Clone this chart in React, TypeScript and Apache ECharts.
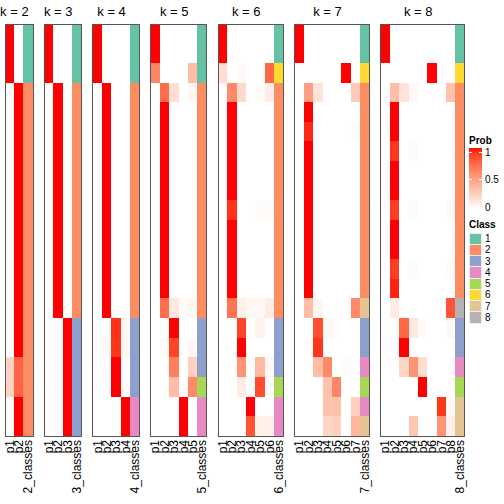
import React, { useEffect, useRef } from "react";
import * as echarts from "echarts";

const K_VALUES = [2, 3, 4, 5, 6, 7, 8];
const ROW_COUNT = 21;

const probK2 = [
  [1, 0], [1, 0], [1, 0],
  [0, 1], [0, 1], [0, 1], [0, 1], [0, 1], [0, 1], [0, 1],
  [0, 1], [0, 1], [0, 1], [0, 1], [0, 1], [0, 1], [0, 1],
  [0.24, 0.76], [0.24, 0.76],
  [0, 1], [0, 1],
];
const classK2 = [1, 1, 1, 2, 2, 2, 2, 2, 2, 2, 2, 2, 2, 2, 2, 2, 2, 2, 2, 2, 2];

const probK3 = [
  [1, 0, 0], [1, 0, 0], [1, 0, 0],
  [0, 1, 0], [0, 1, 0], [0, 1, 0], [0, 1, 0], [0, 1, 0], [0, 1, 0],
  [0, 1, 0], [0, 1, 0], [0, 1, 0], [0, 1, 0], [0, 1, 0], [0, 1, 0],
  [0, 0, 1], [0, 0, 1], [0, 0, 1], [0, 0, 1], [0, 0, 1], [0, 0, 1],
];
const classK3 = [1, 1, 1, 2, 2, 2, 2, 2, 2, 2, 2, 2, 2, 2, 2, 3, 3, 3, 3, 3, 3];

const probK4 = [
  [1, 0, 0, 0], [1, 0, 0, 0], [1, 0, 0, 0],
  [0, 1, 0, 0], [0, 1, 0, 0], [0, 1, 0, 0], [0, 1, 0, 0], [0, 1, 0, 0], [0, 1, 0, 0],
  [0, 1, 0, 0], [0, 1, 0, 0], [0, 1, 0, 0], [0, 1, 0, 0], [0, 1, 0, 0], [0, 1, 0, 0],
  [0, 0, 0.93, 0.04], [0, 0.03, 0.92, 0.04],
  [0, 0, 1, 0], [0, 0, 1, 0],
  [0, 0, 0, 1], [0, 0, 0, 1],
];
const classK4 = [1, 1, 1, 2, 2, 2, 2, 2, 2, 2, 2, 2, 2, 2, 2, 3, 3, 3, 3, 4, 4];

const probK5 = [
  [1, 0, 0, 0, 0], [1, 0, 0, 0, 0], [0.62, 0, 0, 0, 0.35],
  [0, 0.73, 0.17, 0, 0.04],
  [0, 1, 0, 0, 0], [0, 1, 0, 0, 0], [0, 1, 0, 0, 0], [0, 1, 0, 0, 0], [0, 1, 0, 0, 0],
  [0, 1, 0, 0, 0], [0, 1, 0, 0, 0], [0, 1, 0, 0, 0], [0, 1, 0, 0, 0], [0, 1, 0, 0, 0],
  [0, 0.72, 0.12, 0.03, 0.04],
  [0, 0, 1, 0, 0], [0, 0.03, 0.88, 0, 0.04], [0, 0, 0.65, 0, 0.25], [0, 0, 0.35, 0, 0.6],
  [0, 0, 0, 1, 0], [0, 0, 0, 1, 0],
];
const classK5 = [1, 1, 1, 2, 2, 2, 2, 2, 2, 2, 2, 2, 2, 2, 2, 3, 3, 3, 5, 4, 4];

const probK6 = [
  [1, 0, 0, 0, 0, 0], [1, 0, 0, 0, 0, 0], [0.18, 0, 0.03, 0, 0, 0.75],
  [0, 0.6, 0.2, 0, 0.02, 0.1],
  [0, 1, 0, 0, 0, 0], [0, 1, 0, 0, 0, 0], [0, 1, 0, 0, 0, 0], [0, 1, 0, 0, 0, 0], [0, 1, 0, 0, 0, 0],
  [0, 0.93, 0, 0, 0.02, 0.02],
  [0, 1, 0, 0, 0, 0], [0, 1, 0, 0, 0, 0], [0, 1, 0, 0, 0, 0], [0, 1, 0, 0, 0, 0],
  [0, 0.7, 0.08, 0.04, 0.04, 0.1],
  [0, 0, 0.88, 0, 0.07, 0], [0, 0, 1, 0, 0, 0], [0, 0, 0.55, 0, 0.37, 0.04], [0, 0, 0.1, 0, 0.85, 0],
  [0, 0, 0, 1, 0, 0], [0, 0, 0, 0.82, 0.08, 0.08],
];
const classK6 = [1, 1, 6, 2, 2, 2, 2, 2, 2, 2, 2, 2, 2, 2, 2, 3, 3, 3, 5, 4, 4];

const probK7 = [
  [1, 0, 0, 0, 0, 0, 0], [1, 0, 0, 0, 0, 0, 0], [0, 0, 0, 0, 0, 1, 0],
  [0, 0.5, 0.15, 0, 0, 0, 0.28],
  [0, 1, 0, 0, 0, 0, 0], [0, 0.95, 0, 0, 0, 0, 0.02],
  [0, 1, 0, 0, 0, 0, 0], [0, 1, 0, 0, 0, 0, 0], [0, 1, 0, 0, 0, 0, 0], [0, 1, 0, 0, 0, 0, 0],
  [0, 1, 0, 0, 0, 0, 0], [0, 1, 0, 0, 0, 0, 0], [0, 1, 0, 0, 0, 0, 0], [0, 1, 0, 0, 0, 0, 0],
  [0, 0.35, 0.04, 0, 0, 0, 0.6],
  [0, 0, 0.85, 0.04, 0.02, 0, 0], [0, 0.02, 0.92, 0, 0, 0, 0],
  [0, 0, 0.35, 0.6, 0, 0.02, 0], [0, 0, 0, 0.32, 0.62, 0, 0],
  [0, 0, 0, 0.32, 0.32, 0, 0.25], [0, 0, 0, 0.22, 0.25, 0, 0.38],
];
const classK7 = [1, 1, 6, 2, 2, 2, 2, 2, 2, 2, 2, 2, 2, 2, 7, 3, 3, 4, 5, 4, 7];

const probK8 = [
  [1, 0, 0, 0, 0, 0, 0, 0], [1, 0, 0, 0, 0, 0, 0, 0], [0, 0, 0, 0, 0, 1, 0, 0],
  [0, 0.35, 0.15, 0.03, 0, 0, 0, 0.32],
  [0, 1, 0, 0, 0, 0, 0, 0], [0, 1, 0, 0, 0, 0, 0, 0],
  [0, 0.92, 0, 0.02, 0, 0, 0, 0],
  [0, 1, 0, 0, 0, 0, 0, 0], [0, 1, 0, 0, 0, 0, 0, 0],
  [0, 0.9, 0, 0.02, 0, 0, 0, 0.03],
  [0, 1, 0, 0, 0, 0, 0, 0], [0, 1, 0, 0, 0, 0, 0, 0],
  [0, 0.9, 0, 0.02, 0, 0, 0, 0.02], [0, 0.96, 0, 0, 0, 0, 0, 0],
  [0, 0.1, 0, 0, 0, 0, 0, 0.82],
  [0, 0, 0.75, 0.12, 0.03, 0, 0, 0.04], [0, 0, 1, 0, 0, 0, 0, 0],
  [0, 0, 0.22, 0.55, 0.18, 0, 0, 0], [0, 0, 0, 0, 1, 0, 0, 0],
  [0, 0, 0, 0, 0, 0, 0.92, 0.03], [0, 0, 0, 0.3, 0, 0, 0.55, 0.08],
];
const classK8 = [1, 1, 6, 2, 2, 2, 2, 2, 2, 2, 2, 2, 2, 2, 8, 3, 3, 4, 5, 7, 7];

const PROBS = [probK2, probK3, probK4, probK5, probK6, probK7, probK8];
const CLASSES = [classK2, classK3, classK4, classK5, classK6, classK7, classK8];
const CLASS_LABELS = ["1", "2", "3", "4", "5", "6", "7", "8"];
const CLASS_COLORS = ["#66C2A5", "#FC8D62", "#8DA0CB", "#E78AC3", "#A6D854", "#FFD92F", "#E5C494", "#B3B3B3"];
const PROB_TICKS = [1, 0.5, 0];

// layout
const FONT = "Liberation Sans, Arial, Helvetica, sans-serif";
const CELL_W = 9.35;
const GAP = 11.2;
const LEFT0 = 5;
const TOP = 24;
const HEIGHT = 412;

function labWhiteToRed(t: number): string {
  const L = 100 + (53.2408 - 100) * t;
  const a = 80.0925 * t;
  const b = 67.2032 * t;
  const fy = (L + 16) / 116;
  const fx = fy + a / 500;
  const fz = fy - b / 200;
  const f = (v: number) => (v * v * v > 0.008856 ? v * v * v : (v - 16 / 116) / 7.787);
  const X = 0.95047 * f(fx), Y = f(fy), Z = 1.08883 * f(fz);
  const r = 3.2406 * X - 1.5372 * Y - 0.4986 * Z;
  const g = -0.9689 * X + 1.8758 * Y + 0.0415 * Z;
  const bl = 0.0557 * X - 0.204 * Y + 1.057 * Z;
  const gam = (c: number) => {
    c = Math.min(1, Math.max(0, c));
    const v = c <= 0.0031308 ? 12.92 * c : 1.055 * Math.pow(c, 1 / 2.4) - 0.055;
    return Math.round(v * 255).toString(16).padStart(2, "0");
  };
  return "#" + gam(r) + gam(g) + gam(bl);
}

const PALETTE = Array.from({ length: 41 }, (_, i) => labWhiteToRed(i / 40));

export default function App() {
  const ref = useRef<HTMLDivElement>(null);
  useEffect(() => {
    if (!ref.current) return;
    const chart = echarts.init(ref.current, null, { renderer: "svg", width: 504, height: 504 });

    const grids: any[] = [];
    const xAxes: any[] = [];
    const yAxes: any[] = [];
    const probSeries: any[] = [];
    const classSeries: any[] = [];
    const graphics: any[] = [];
    let cum = 0;
    K_VALUES.forEach((k, i) => {
      const ncol = k + 1;
      const left = LEFT0 + cum * CELL_W + i * GAP;
      const width = ncol * CELL_W;
      cum += ncol;
      grids.push({ left, top: TOP, width, height: HEIGHT, containLabel: false });
      const cats = Array.from({ length: k }, (_, j) => "p" + (j + 1)).concat([k + "_classes"]);
      xAxes.push({
        type: "category",
        gridIndex: i,
        data: cats,
        position: "bottom",
        axisLine: { show: false },
        axisTick: { show: false },
        splitLine: { show: false },
        axisLabel: {
          interval: 0,
          rotate: 90,
          margin: 4,
          fontSize: 12,
          color: "#000",
          fontFamily: FONT,
        },
      });
      yAxes.push({
        type: "category",
        gridIndex: i,
        data: Array.from({ length: ROW_COUNT }, (_, r) => String(r)),
        inverse: true,
        show: false,
      });
      const pd: any[] = [];
      PROBS[i].forEach((row, r) => row.forEach((v, c) => pd.push([c, r, v])));
      probSeries.push({
        type: "heatmap",
        xAxisIndex: i,
        yAxisIndex: i,
        data: pd,
        itemStyle: { borderWidth: 0 },
        emphasis: { disabled: true },
        progressive: 0,
      });
      const cd: any[] = CLASSES[i].map((cl, r) => [k, r, cl]);
      classSeries.push({
        type: "heatmap",
        xAxisIndex: i,
        yAxisIndex: i,
        data: cd,
        itemStyle: { borderWidth: 0 },
        emphasis: { disabled: true },
        progressive: 0,
      });
      // border
      graphics.push({
        type: "rect",
        shape: { x: left, y: TOP, width, height: HEIGHT },
        style: { fill: "none", stroke: "#555", lineWidth: 1 },
        z: 100,
        silent: true,
      });
      // title centered over probability columns
      graphics.push({
        type: "text",
        x: left + (k * CELL_W) / 2,
        y: 11,
        style: {
          text: "k = " + k,
          fill: "#000",
          fontSize: 13,
          fontFamily: FONT,
          align: "center",
          verticalAlign: "middle",
          textAlign: "center",
          textVerticalAlign: "middle",
        },
        z: 100,
      });
    });

    // Prob legend
    const LX = 469;
    graphics.push({
      type: "text", x: LX, y: 140,
      style: { text: "Prob", fill: "#000", fontSize: 10, fontWeight: "bold", fontFamily: FONT, align: "left", verticalAlign: "middle", textAlign: "left", textVerticalAlign: "middle" },
    });
    const barTop = 148, barH = 61;
    graphics.push({
      type: "rect",
      shape: { x: LX, y: barTop, width: 13, height: barH },
      style: {
        fill: new echarts.graphic.LinearGradient(0, 0, 0, 1, PALETTE.slice().reverse().map((c, i, arr) => ({ offset: i / (arr.length - 1), color: c }))),
      },
    });
    const tickY = (v: number) => 152 + (1 - v) * 55;
    PROB_TICKS.forEach((v) => {
      const y = tickY(v);
      graphics.push({ type: "line", shape: { x1: LX, y1: y, x2: LX + 3, y2: y }, style: { stroke: "#fff", lineWidth: 1 } });
      graphics.push({ type: "line", shape: { x1: LX + 10, y1: y, x2: LX + 13, y2: y }, style: { stroke: "#fff", lineWidth: 1 } });
      graphics.push({
        type: "text", x: LX + 16, y,
        style: { text: String(v), fill: "#000", fontSize: 10, fontFamily: FONT, align: "left", verticalAlign: "middle", textAlign: "left", textVerticalAlign: "middle" },
      });
    });
    // Class legend
    graphics.push({
      type: "text", x: LX, y: 224,
      style: { text: "Class", fill: "#000", fontSize: 10, fontWeight: "bold", fontFamily: FONT, align: "left", verticalAlign: "middle", textAlign: "left", textVerticalAlign: "middle" },
    });
    const swH = 11.25;
    CLASS_LABELS.forEach((lab, i) => {
      const y = 233 + i * swH;
      graphics.push({
        type: "rect",
        shape: { x: LX, y, width: 12, height: swH },
        style: { fill: CLASS_COLORS[i], stroke: "#eee", lineWidth: 1 },
      });
      graphics.push({
        type: "text", x: LX + 16, y: y + swH / 2,
        style: { text: lab, fill: "#000", fontSize: 10, fontFamily: FONT, align: "left", verticalAlign: "middle", textAlign: "left", textVerticalAlign: "middle" },
      });
    });

    const probIdx = probSeries.map((_, i) => i);
    const classIdx = classSeries.map((_, i) => i + probSeries.length);

    chart.setOption({
      animation: false,
      backgroundColor: "#fff",
      textStyle: { fontFamily: FONT },
      grid: grids,
      xAxis: xAxes,
      yAxis: yAxes,
      visualMap: [
        {
          type: "continuous",
          show: false,
          min: 0,
          max: 1,
          dimension: 2,
          seriesIndex: probIdx,
          inRange: { color: PALETTE },
        },
        {
          type: "piecewise",
          show: false,
          dimension: 2,
          seriesIndex: classIdx,
          pieces: CLASS_COLORS.map((c, i) => ({ value: i + 1, color: c })),
        },
      ],
      series: [...probSeries, ...classSeries],
      graphic: graphics,
    });
    return () => chart.dispose();
  }, []);
  return (
    <div
      ref={ref}
      style={{
        position: "fixed",
        left: 0,
        top: 0,
        width: 504,
        height: 504,
        background: "#fff",
        shapeRendering: "crispEdges",
      } as any}
    />
  );
}
